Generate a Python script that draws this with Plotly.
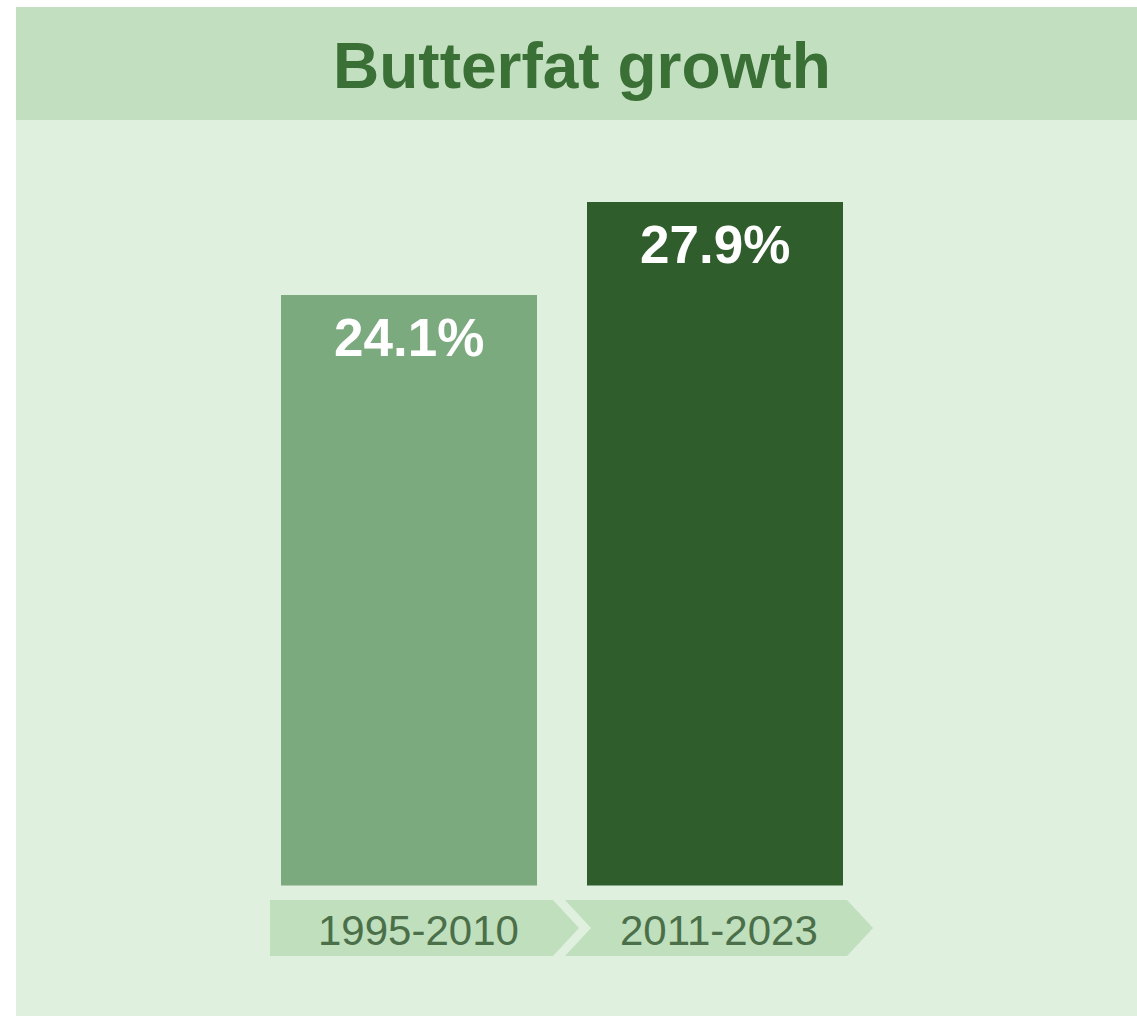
import plotly.graph_objects as go

# ---- data ----
periods = ["1995-2010", "2011-2023"]
growth = [24.1, 27.9]
bar_colors = ["#7caa7f", "#2f5e2c"]
title_text = "Butterfat growth"

W, H = 1137, 1016
FONT = "Liberation Sans, Arial, sans-serif"

def px_x(p):
    return p / W

def px_y(p):
    return 1 - p / H

# axis geometry (pixels)
bar_center0, bar_step = 409, 306
x_range = [(0 - bar_center0) / bar_step, (W - bar_center0) / bar_step]
y_bottom_px, y_top_px = 885.5, 149.6
idx = list(range(len(periods)))
label_xshift = [9, 4]

fig = go.Figure()
fig.add_trace(go.Bar(
    x=idx, y=growth, width=256 / bar_step,
    marker=dict(color=bar_colors, line=dict(width=0)),
    hoverinfo="skip",
))

shapes = [
    # panel
    dict(type="rect", xref="paper", yref="paper", x0=px_x(16), x1=1, y0=0, y1=px_y(7),
         fillcolor="#dff0df", line=dict(width=0), layer="below"),
    # title band
    dict(type="rect", xref="paper", yref="paper", x0=px_x(16), x1=1, y0=px_y(120), y1=px_y(7),
         fillcolor="#c2e0c0", line=dict(width=0), layer="below"),
]

# chevrons under each category (offsets in category units)
ytop, ymid, ybot = px_y(900), px_y(928), px_y(956)
chev_col = "#bfdfbd"
for i in idx:
    if i == 0:
        l, n, r, t = -139, None, 144, 170
    else:
        l, n, r, t = -150, -124, 132, 158
    L = i + l / bar_step
    R = i + r / bar_step
    T = i + t / bar_step
    if n is None:
        path = f"M {L},{ytop} L {R},{ytop} L {T},{ymid} L {R},{ybot} L {L},{ybot} Z"
    else:
        N = i + n / bar_step
        path = f"M {L},{ytop} L {R},{ytop} L {T},{ymid} L {R},{ybot} L {L},{ybot} L {N},{ymid} Z"
    shapes.append(dict(type="path", xref="x", yref="paper", path=path,
                       fillcolor=chev_col, line=dict(width=0), layer="below"))

annotations = [
    dict(text=f"<b>{title_text}</b>", xref="paper", yref="paper",
         x=px_x(582), y=px_y(66), xanchor="center", yanchor="middle", showarrow=False,
         font=dict(family=FONT, size=64, color="#3a6f36")),
]
for i, (p, v) in enumerate(zip(periods, growth)):
    annotations.append(dict(text=f"<b>{v:.1f}%</b>", xref="x", yref="y", x=i, y=v,
                            xanchor="center", yanchor="middle", yshift=-43.5, showarrow=False,
                            font=dict(family=FONT, size=53, color="white")))
    annotations.append(dict(text=p, xref="x", yref="paper", x=i, y=px_y(930),
                            xanchor="center", yanchor="middle", xshift=label_xshift[i], showarrow=False,
                            font=dict(family=FONT, size=42, color="#4b6f49")))

fig.update_layout(
    width=W, height=H,
    margin=dict(l=0, r=0, t=0, b=0),
    paper_bgcolor="white", plot_bgcolor="rgba(0,0,0,0)",
    showlegend=False, bargap=0,
    xaxis=dict(range=x_range, domain=[0, 1], visible=False, fixedrange=True),
    yaxis=dict(range=[0, 30], domain=[px_y(y_bottom_px), px_y(y_top_px)], visible=False, fixedrange=True),
    shapes=shapes, annotations=annotations,
)

fig.write_html("out.html", config=dict(displayModeBar=False),
               post_script="document.body.style.margin='0';document.body.style.overflow='hidden';")
